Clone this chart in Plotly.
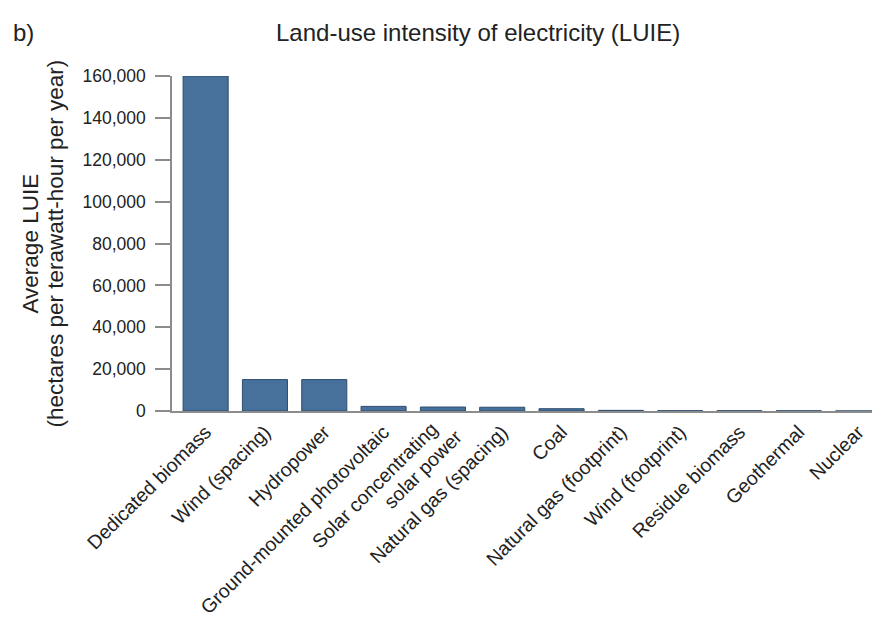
import plotly.graph_objects as go

# Average land-use intensity of electricity by source
categories = [
    "Dedicated biomass",
    "Wind (spacing)",
    "Hydropower",
    "Ground-mounted photovoltaic",
    "Solar concentrating<br>solar power",
    "Natural gas (spacing)",
    "Coal",
    "Natural gas (footprint)",
    "Wind (footprint)",
    "Residue biomass",
    "Geothermal",
    "Nuclear",
]
luie = [160000, 15000, 15000, 2200, 1900, 1800, 1100, 300, 150, 120, 100, 20]

y_ticks = [0, 20000, 40000, 60000, 80000, 100000, 120000, 140000, 160000]
y_tick_text = ["0", "20,000", "40,000", "60,000", "80,000", "100,000",
               "120,000", "140,000", "160,000"]

FONT = "Liberation Sans, Arial, Helvetica, sans-serif"
INK = "#222222"
AXIS = "#8c8c8c"
LABEL_SIZE = 19.5
W, H = 872, 618
L, R, T, B = 172, 0, 75.5, 206.5
plot_w = W - L - R
plot_h = H - T - B
X_RANGE = [-0.567, 11.234]
px_per_cat = plot_w / (X_RANGE[1] - X_RANGE[0])


def px_x(x):
    return (x - L) / plot_w


def px_y(y):
    return 1 - (y - T) / plot_h


# Single-line labels go on the axis; the two-line label is set as two
# separately placed lines so it does not collide with its neighbour.
axis_text = ["" if "<br>" in c else c for c in categories]

fig = go.Figure(
    go.Bar(
        x=list(range(len(categories))),
        y=luie,
        marker=dict(color="#47709b", line=dict(color="#2f4d6e", width=1)),
    )
)

fig.update_layout(
    width=W,
    height=H,
    margin=dict(l=L, r=R, t=T, b=B, pad=0),
    paper_bgcolor="white",
    plot_bgcolor="white",
    bargap=0.24,
    showlegend=False,
    font=dict(family=FONT, size=16, color=INK),
)

fig.update_xaxes(
    range=X_RANGE,
    tickmode="array",
    tickvals=list(range(len(categories))),
    ticktext=axis_text,
    tickangle=-45,
    ticks="",
    showline=True,
    linecolor=AXIS,
    linewidth=2,
    showgrid=False,
    zeroline=False,
    automargin=False,
    tickfont=dict(family=FONT, size=LABEL_SIZE, color=INK),
)

fig.update_yaxes(
    range=[0, 160000],
    tickmode="array",
    tickvals=y_ticks,
    ticktext=y_tick_text,
    ticks="outside",
    ticklen=15,
    tickwidth=1.5,
    tickcolor=AXIS,
    ticklabelstandoff=6,
    showline=True,
    linecolor=AXIS,
    linewidth=1.5,
    showgrid=False,
    zeroline=False,
    automargin=False,
    tickfont=dict(family=FONT, size=17.5, color=INK),
)

for i, c in enumerate(categories):
    if "<br>" not in c:
        continue
    lines = c.split("<br>")
    # (horizontal offset in px, top in px) of each line's end
    offsets = [(2, 416), (26, 423)]
    for line, (dx, ytop) in zip(lines, offsets):
        fig.add_annotation(
            text=line,
            xref="x", yref="paper",
            x=i + dx / px_per_cat, y=px_y(ytop),
            xanchor="right", yanchor="top",
            textangle=-45,
            showarrow=False,
            font=dict(family=FONT, size=LABEL_SIZE, color=INK),
        )

# Title and panel letter
fig.add_annotation(
    text="Land-use intensity of electricity (LUIE)",
    xref="paper", yref="paper",
    x=px_x(478), y=px_y(32),
    xanchor="center", yanchor="middle",
    showarrow=False,
    font=dict(family=FONT, size=24, color=INK),
)
fig.add_annotation(
    text="b)",
    xref="paper", yref="paper",
    x=px_x(11), y=px_y(32),
    xanchor="left", yanchor="middle",
    showarrow=False,
    font=dict(family=FONT, size=24, color=INK),
)

# Two-line y-axis title
fig.add_annotation(
    text="Average LUIE",
    xref="paper", yref="paper",
    x=px_x(30), y=0.5,
    xanchor="center", yanchor="middle",
    textangle=-90,
    showarrow=False,
    font=dict(family=FONT, size=22.5, color=INK),
)
fig.add_annotation(
    text="(hectares per terawatt-hour per year)",
    xref="paper", yref="paper",
    x=px_x(55), y=0.5,
    xanchor="center", yanchor="middle",
    textangle=-90,
    showarrow=False,
    font=dict(family=FONT, size=22.5, color=INK),
)

fig.write_html("out.html")
